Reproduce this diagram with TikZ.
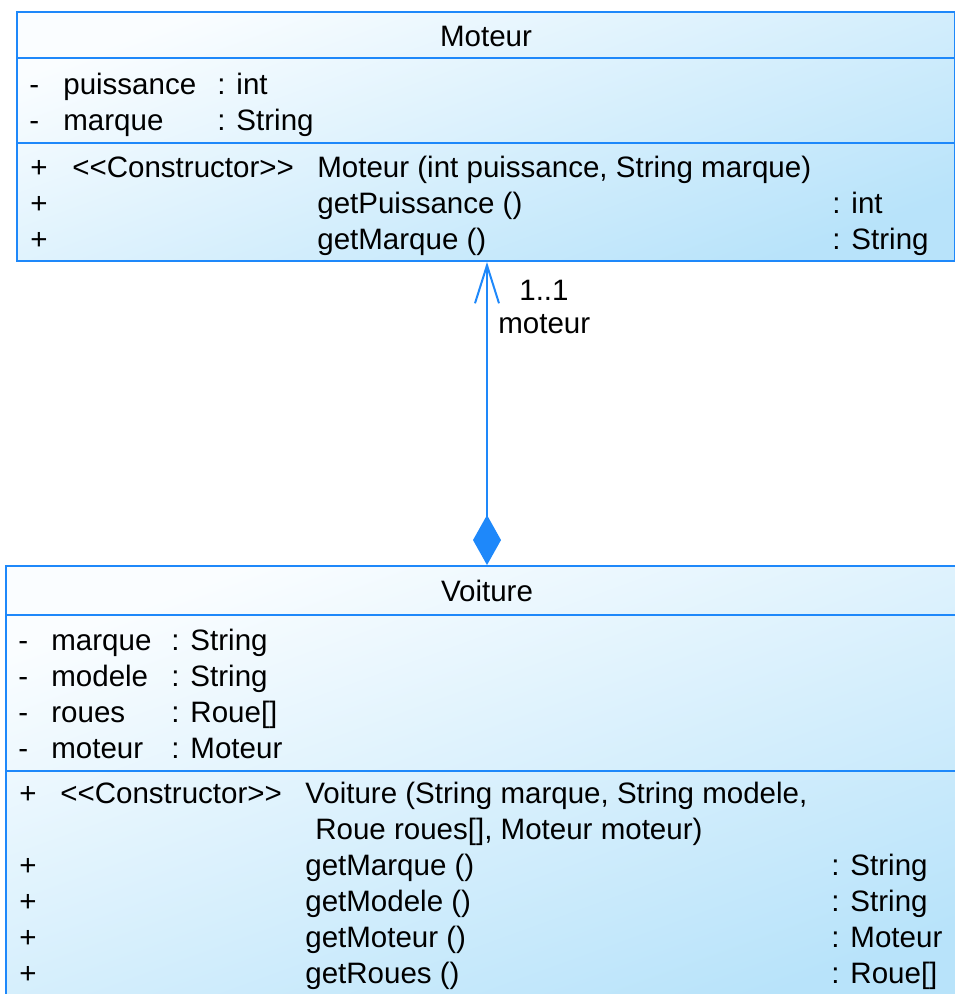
\documentclass[tikz,border=0pt]{standalone}
\usepackage{fontspec}
\newfontfamily\umlfont{Liberation Sans}
\usetikzlibrary{arrows.meta}

\definecolor{umlblue}{RGB}{30,136,250}
\definecolor{umllight}{RGB}{250,253,255}
\definecolor{umldark}{RGB}{184,227,250}

\begin{document}
\begin{tikzpicture}
            [x=0.02cm, y=-0.02cm,
            box/.style={rectangle, draw=umlblue, line width=0.04cm, top color=umllight, bottom color=umldark, shading angle=20, inner sep=0pt},
            sep/.style={umlblue, line width=0.04cm},
            txt/.style={anchor=base west, inner sep=0pt, font=\umlfont\fontsize{16.8}{20}\selectfont},
            title/.style={txt, anchor=base},
            assoc/.style={umlblue, line width=0.04cm, {Diamond[length=1cm, width=0.56cm]}-{Straight Barb[length=0.76cm, width=0.48cm]}}]

            \useasboundingbox (0,0) rectangle (955,994);
            \clip (0,0) rectangle (955,994);

            % class boxes
            \node[box, minimum width=18.76cm, minimum height=4.98cm] (moteur) at (486,136.5) {};
            \node[box, minimum width=19.24cm, minimum height=8.88cm] (voiture) at (487,788) {};

            % compartments
            \coordinate (msep1) at (17,58);
            \coordinate (msep2) at (17,143);
            \coordinate (vsep1) at (6,615);
            \coordinate (vsep2) at (6,771);
            \draw[sep] (msep1) -- (msep1 -| moteur.east);
            \draw[sep] (msep2) -- (msep2 -| moteur.east);
            \draw[sep] (vsep1) -- (vsep1 -| voiture.east);
            \draw[sep] (vsep2) -- (vsep2 -| voiture.east);

            % Moteur
            \node[title] (mname) at (486,46) {Moteur};
            \node[txt] (mv1) at (29,94) {-};
            \node[txt] (ma1) at (63,94) {puissance};
            \node[txt] (mt1) at (217,94) {: int};
            \node[txt] (mv2) at (29,130) {-};
            \node[txt] (ma2) at (63,130) {marque};
            \node[txt] (mt2) at (217,130) {: String};
            \node[txt] (mp1) at (30,177) {+};
            \node[txt] (mst) at (72,177) {<<Constructor>>};
            \node[txt] (mo1) at (317,177) {Moteur (int puissance, String marque)};
            \node[txt] (mp2) at (30,213) {+};
            \node[txt] (mo2) at (317,213) {getPuissance ()};
            \node[txt] (mr2) at (832,213) {: int};
            \node[txt] (mp3) at (30,249) {+};
            \node[txt] (mo3) at (317,249) {getMarque ()};
            \node[txt] (mr3) at (832,249) {: String};

            % Voiture
            \node[title] (vname) at (487,601) {Voiture};
            \node[txt] (vv1) at (18,650) {-};
            \node[txt] (va1) at (51,650) {marque};
            \node[txt] (vt1) at (171,650) {: String};
            \node[txt] (vv2) at (18,686) {-};
            \node[txt] (va2) at (51,686) {modele};
            \node[txt] (vt2) at (171,686) {: String};
            \node[txt] (vv3) at (18,722) {-};
            \node[txt] (va3) at (51,722) {roues};
            \node[txt] (vt3) at (171,722) {: Roue[]};
            \node[txt] (vv4) at (18,758) {-};
            \node[txt] (va4) at (51,758) {moteur};
            \node[txt] (vt4) at (171,758) {: Moteur};
            \node[txt] (vp1) at (19,803) {+};
            \node[txt] (vst) at (60,803) {<<Constructor>>};
            \node[txt] (vo1) at (305,803) {Voiture (String marque, String modele,};
            \node[txt] (vo1b) at (315,839) {Roue roues[], Moteur moteur)};
            \node[txt] (vp2) at (19,875) {+};
            \node[txt] (vo2) at (305,875) {getMarque ()};
            \node[txt] (vr2) at (831,875) {: String};
            \node[txt] (vp3) at (19,911) {+};
            \node[txt] (vo3) at (305,911) {getModele ()};
            \node[txt] (vr3) at (831,911) {: String};
            \node[txt] (vp4) at (19,947) {+};
            \node[txt] (vo4) at (305,947) {getMoteur ()};
            \node[txt] (vr4) at (831,947) {: Moteur};
            \node[txt] (vp5) at (19,983) {+};
            \node[txt] (vo5) at (305,983) {getRoues ()};
            \node[txt] (vr5) at (831,983) {: Roue[]};

            % composition
            \draw[assoc] (voiture.north) -- (voiture.north |- moteur.south);
            \node[txt] (mult) at (519,300) {1..1};
            \node[txt] (role) at (498,333) {moteur};

        \end{tikzpicture}
\end{document}
